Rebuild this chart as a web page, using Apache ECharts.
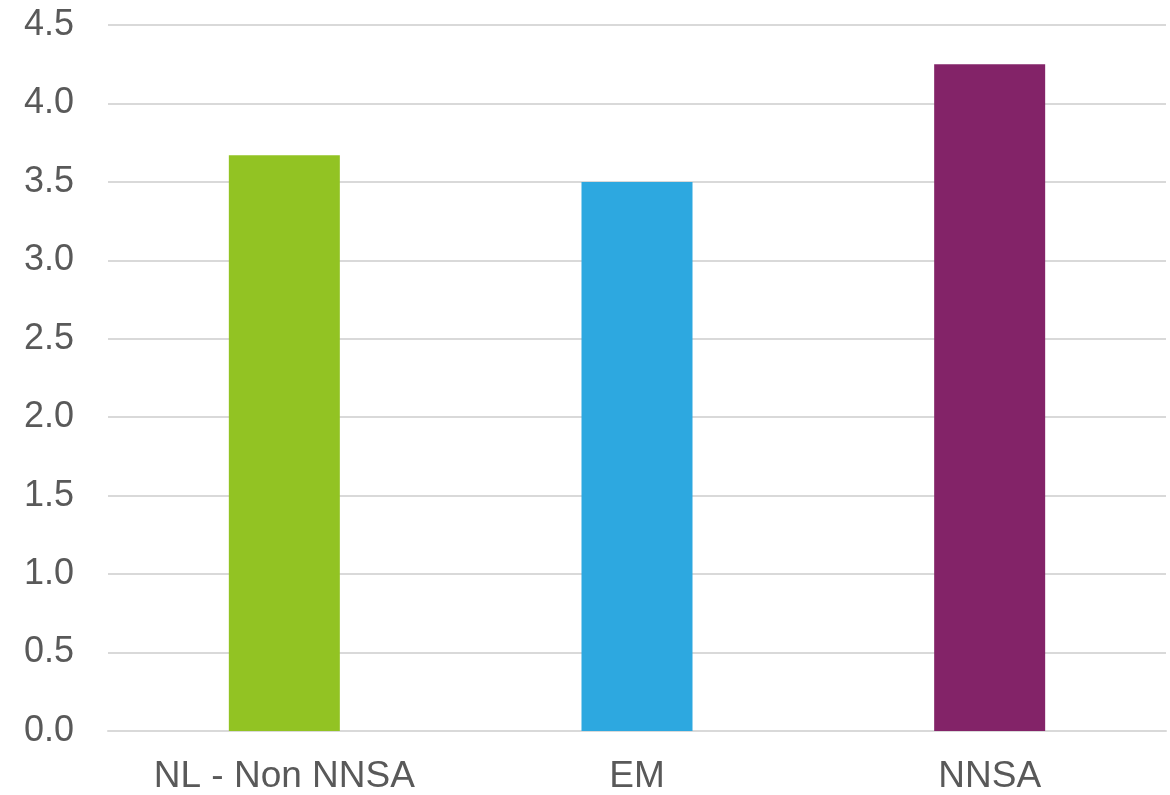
<!DOCTYPE html>
<html><head><meta charset="utf-8">
<script src="https://cdn.jsdelivr.net/npm/echarts@6/dist/echarts.min.js"></script>
<style>html,body{margin:0;padding:0;background:#fff}#c{width:1170px;height:795px}</style>
</head><body><div id="c"></div>
<script>
const categories = ["NL - Non NNSA", "EM", "NNSA"];
const values = [3.67, 3.50, 4.25];
const barColors = ["#92C323", "#2DA8E0", "#832368"];
const yTicks = [0, 0.5, 1.0, 1.5, 2.0, 2.5, 3.0, 3.5, 4.0, 4.5];

const chart = echarts.init(document.getElementById('c'), null, {renderer: 'canvas'});
chart.setOption({
  animation: false,
  grid: {left: 108, right: 4, top: 25, bottom: 63, containLabel: false},
  xAxis: {
    type: 'category', data: categories,
    axisLine: {lineStyle: {color: '#d9d9d9', width: 2}},
    axisTick: {show: false},
    axisLabel: {color: '#595959', fontSize: 37, fontFamily: 'Liberation Sans, Arial, sans-serif', margin: 27}
  },
  yAxis: {
    type: 'value', min: yTicks[0], max: yTicks[yTicks.length - 1], interval: 0.5,
    axisLine: {show: false}, axisTick: {show: false},
    splitLine: {lineStyle: {color: '#d9d9d9', width: 2}},
    axisLabel: {color: '#595959', fontSize: 36, fontFamily: 'Liberation Sans, Arial, sans-serif', margin: 34,
      formatter: v => v.toFixed(1)}
  },
  series: [{
    type: 'bar', barWidth: 111,
    data: values.map((v, i) => ({value: v, itemStyle: {color: barColors[i]}}))
  }]
});
</script></body></html>
